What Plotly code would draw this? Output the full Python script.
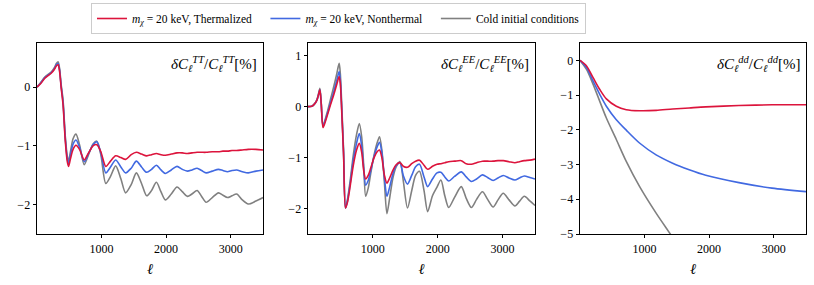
import plotly.graph_objects as go

# ---------------- data ----------------
tt_ell = [2, 60, 123, 180, 225, 270, 302, 328, 350, 375, 405, 440, 471, 490, 520, 560, 605, 660, 733,
          800, 870, 928, 990, 1067, 1140, 1220, 1300, 1374, 1460, 1540, 1620, 1700, 1775, 1850, 1920,
          1989, 2080, 2169, 2250, 2330, 2400, 2480, 2550, 2620, 2715, 2810, 2880, 2950, 3020, 3092,
          3180, 3272, 3390, 3500]
tt_cold = [0, 0.08, 0.17, 0.22, 0.26, 0.33, 0.40, 0.43, 0.33, 0.05, -0.22, -0.84, -1.18, -1.25, -1.10,
           -0.88, -0.80, -0.98, -1.32, -1.15, -0.97, -0.92, -1.15, -1.64, -1.52, -1.34, -1.56, -1.80,
           -1.66, -1.46, -1.64, -1.85, -1.76, -1.62, -1.78, -1.92, -1.82, -1.70, -1.78, -1.86, -1.82,
           -1.76, -1.86, -1.96, -1.88, -1.80, -1.84, -1.88, -1.85, -1.82, -1.92, -1.99, -1.94, -1.88]
tt_nonth = [0, 0.07, 0.16, 0.21, 0.25, 0.31, 0.38, 0.40, 0.30, 0.02, -0.26, -0.88, -1.22, -1.30, -1.15,
            -0.97, -0.90, -1.02, -1.27, -1.13, -0.98, -0.93, -1.12, -1.46, -1.36, -1.24, -1.36, -1.46,
            -1.38, -1.26, -1.36, -1.45, -1.40, -1.33, -1.41, -1.47, -1.41, -1.35, -1.40, -1.43, -1.41,
            -1.38, -1.42, -1.46, -1.43, -1.40, -1.42, -1.44, -1.42, -1.41, -1.44, -1.46, -1.43, -1.41]
tt_therm = [0, 0.06, 0.15, 0.20, 0.24, 0.30, 0.36, 0.38, 0.28, 0.0, -0.30, -0.92, -1.27, -1.35, -1.22,
            -1.06, -0.99, -1.06, -1.24, -1.12, -1.00, -0.98, -1.10, -1.35, -1.26, -1.17, -1.20, -1.23,
            -1.15, -1.11, -1.14, -1.17, -1.15, -1.13, -1.15, -1.16, -1.14, -1.12, -1.12, -1.13, -1.12,
            -1.11, -1.11, -1.11, -1.10, -1.10, -1.09, -1.09, -1.08, -1.08, -1.07, -1.06, -1.06, -1.07]

ee_ell = [2, 60, 100, 140, 165, 185, 205, 233, 260, 300, 350, 400, 446, 482, 500, 520, 550, 580, 610,
          653, 700, 750, 793, 830, 860, 891, 930, 970, 1020, 1070, 1104, 1140, 1180, 1218, 1260, 1310,
          1360, 1420, 1470, 1535, 1600, 1660, 1720, 1790, 1846, 1920, 1990, 2050, 2110, 2170, 2260,
          2364, 2440, 2520, 2600, 2690, 2770, 2855, 2930, 3011, 3100, 3190, 3260, 3335, 3420, 3500]
ee_cold = [0, 0.01, 0.05, 0.14, 0.26, 0.36, 0.10, -0.39, -0.28, -0.10, 0.15, 0.40, 0.65, 0.85, 0.65,
           0.10, -0.85, -1.99, -1.82, -1.44, -0.95, -0.55, -0.33, -0.60, -1.15, -1.76, -1.60, -1.30,
           -0.95, -0.70, -0.59, -0.85, -1.50, -2.10, -1.80, -1.40, -1.18, -1.08, -1.45, -1.99, -1.65,
           -1.35, -1.27, -1.65, -2.06, -1.75, -1.58, -1.44, -1.75, -1.98, -1.78, -1.57, -1.80, -1.98,
           -1.82, -1.67, -1.82, -1.97, -1.83, -1.70, -1.83, -1.95, -1.86, -1.76, -1.85, -1.94]
ee_nonth = [0, 0.01, 0.05, 0.13, 0.24, 0.33, 0.08, -0.37, -0.30, -0.14, 0.08, 0.30, 0.52, 0.69, 0.52,
            0.0, -0.90, -1.99, -1.85, -1.50, -1.05, -0.72, -0.53, -0.78, -1.20, -1.54, -1.45, -1.25,
            -0.98, -0.78, -0.70, -0.90, -1.40, -1.76, -1.58, -1.32, -1.16, -1.10, -1.35, -1.52, -1.35,
            -1.18, -1.13, -1.38, -1.57, -1.42, -1.30, -1.29, -1.38, -1.46, -1.37, -1.28, -1.38, -1.47,
            -1.42, -1.34, -1.39, -1.45, -1.40, -1.35, -1.40, -1.44, -1.40, -1.36, -1.39, -1.42]
ee_therm = [0, 0.01, 0.05, 0.13, 0.24, 0.33, 0.07, -0.41, -0.33, -0.17, 0.04, 0.24, 0.44, 0.59, 0.45,
            -0.05, -0.95, -1.99, -1.88, -1.55, -1.15, -0.85, -0.72, -0.90, -1.25, -1.42, -1.35, -1.20,
            -1.00, -0.88, -0.85, -1.00, -1.35, -1.50, -1.40, -1.25, -1.14, -1.10, -1.17, -1.19, -1.12,
            -1.07, -1.05, -1.15, -1.23, -1.17, -1.13, -1.12, -1.10, -1.08, -1.07, -1.06, -1.12, -1.13,
            -1.10, -1.07, -1.07, -1.07, -1.06, -1.06, -1.08, -1.10, -1.08, -1.06, -1.05, -1.03]

dd_ell = [2, 103, 205, 308, 410, 564, 718, 923, 1180, 1436, 1692, 1949, 2462, 2974, 3500]
dd_therm = [0, -0.16, -0.50, -0.84, -1.11, -1.32, -1.42, -1.45, -1.44, -1.40, -1.37, -1.34, -1.30, -1.28, -1.28]
dd_nonth = [0, -0.21, -0.60, -0.98, -1.32, -1.71, -2.01, -2.38, -2.72, -2.96, -3.15, -3.31, -3.52, -3.68, -3.78]
dd_cold_ell = [2, 103, 205, 308, 410, 564, 718, 923, 1180, 1400, 1600]
dd_cold = [0, -0.26, -0.69, -1.18, -1.66, -2.28, -2.91, -3.63, -4.40, -5.00, -5.55]

names = ["<i>m</i><sub><i>χ</i></sub> = 20 keV, Thermalized",
         "<i>m</i><sub><i>χ</i></sub> = 20 keV, Nonthermal",
         "Cold initial conditions"]
colors = ["#DC143C", "#4169E1", "#808080"]

panel_titles = ["<i>δC</i><sub><i>ℓ</i></sub><sup><i>TT</i></sup>/<i>C</i><sub><i>ℓ</i></sub><sup><i>TT</i></sup>[%]",
                "<i>δC</i><sub><i>ℓ</i></sub><sup><i>EE</i></sup>/<i>C</i><sub><i>ℓ</i></sub><sup><i>EE</i></sup>[%]",
                "<i>δC</i><sub><i>ℓ</i></sub><sup><i>dd</i></sup>/<i>C</i><sub><i>ℓ</i></sub><sup><i>dd</i></sup>[%]"]
y_ranges = [[-2.5, 0.75], [-2.5, 1.25], [-5, 0.5]]
y_ticks = [[-2, -1, 0], [-2, -1, 0, 1], [-5, -4, -3, -2, -1, 0]]
x_ticks = [1000, 2000, 3000]

# ---------------- figure ----------------
W, H = 814, 285
T, B = 43, 51
FONT = "Liberation Serif, Times New Roman, serif"
PAD = "&nbsp;" * 3
fig = go.Figure()

panels = [
    [(tt_ell, tt_therm), (tt_ell, tt_nonth), (tt_ell, tt_cold)],
    [(ee_ell, ee_therm), (ee_ell, ee_nonth), (ee_ell, ee_cold)],
    [(dd_ell, dd_therm), (dd_ell, dd_nonth), (dd_cold_ell, dd_cold)],
]
order = [2, 1, 0]  # draw cold first, thermalized on top
for p, series in enumerate(panels):
    sfx = "" if p == 0 else str(p + 1)
    for k in order:
        x, y = series[k]
        fig.add_trace(go.Scatter(
            x=x, y=y, mode="lines", name=names[k] + (PAD if k < 2 else ""),
            line=dict(color=colors[k], width=1.6, shape="spline", smoothing=0.8),
            xaxis="x" + sfx, yaxis="y" + sfx,
            showlegend=(p == 0), legendrank=k + 1,
        ))

domains_px = [(37, 263), (308, 535), (580, 806)]
axis_common = dict(showline=True, mirror=True, linecolor="black", linewidth=0.9,
                   ticks="outside", ticklen=3.5, tickwidth=0.9, tickcolor="black",
                   showgrid=False, zeroline=False,
                   tickfont=dict(family=FONT, size=12, color="black"))
layout = {}
for p, (a, b) in enumerate(domains_px):
    sfx = "" if p == 0 else str(p + 1)
    layout["xaxis" + sfx] = dict(axis_common, domain=[a / W, b / W], range=[2, 3500],
                                 tickvals=x_ticks, anchor="y" + sfx,
                                 title=dict(text="<i>ℓ</i>", font=dict(family=FONT, size=15, color="black"),
                                            standoff=8))
    layout["yaxis" + sfx] = dict(axis_common, domain=[0, 1], range=y_ranges[p],
                                 tickvals=y_ticks[p], anchor="x" + sfx)
fig.update_layout(**layout)

plot_h = H - T - B
for p, (a, b) in enumerate(domains_px):
    fig.add_annotation(text=panel_titles[p], xref="paper", yref="paper",
                       x=(b - 4) / W, y=(H - B - 64) / plot_h, xanchor="right", yanchor="middle",
                       showarrow=False, font=dict(family=FONT, size=15, color="black"))

fig.update_layout(
    width=W, height=H,
    margin=dict(l=0, r=0, t=T, b=B, autoexpand=False),
    paper_bgcolor="white", plot_bgcolor="white",
    font=dict(family=FONT, size=12, color="black"),
    legend=dict(orientation="h", x=91 / W, y=(H - B - 3) / plot_h, xanchor="left", yanchor="top",
                bordercolor="#cccccc", borderwidth=1, bgcolor="white",
                itemwidth=30,
                font=dict(family=FONT, size=11.5, color="black"), traceorder="normal"),
)

fig.write_html("out.html", config={"displayModeBar": False},
               post_script="document.body.style.margin='0';")
